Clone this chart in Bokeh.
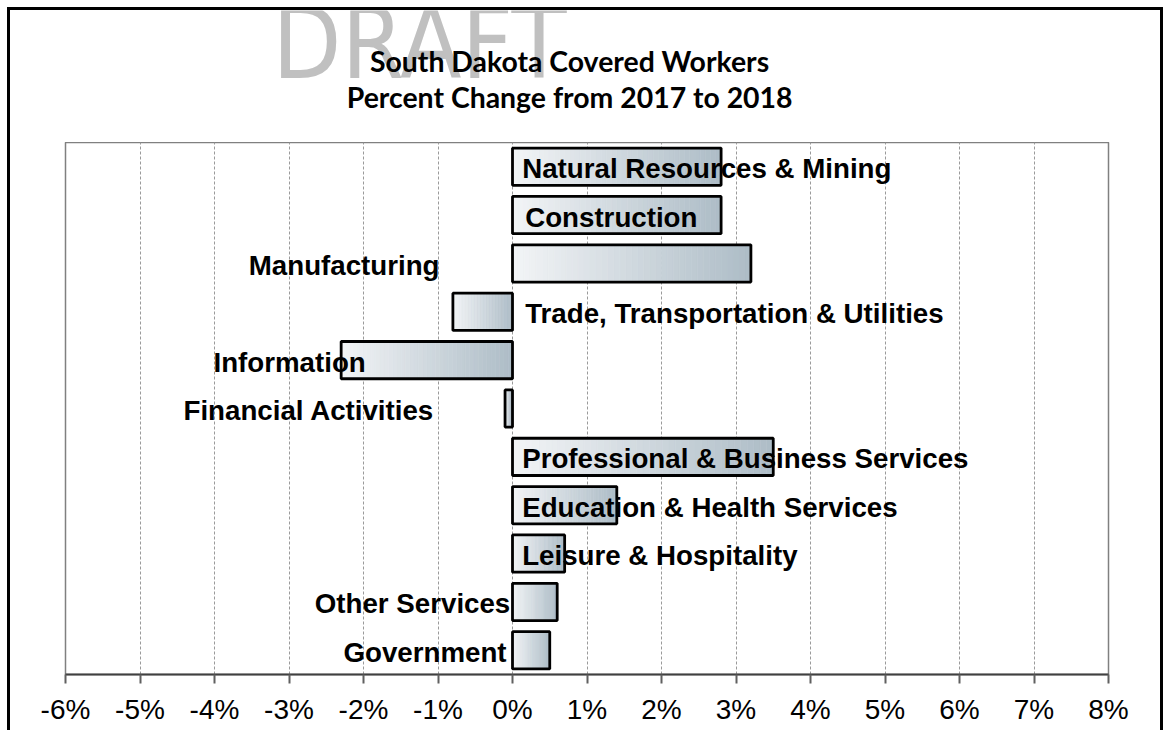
import numpy as np
from bokeh.plotting import figure
from bokeh.layouts import column
from bokeh.models import (Range1d, FactorRange, FixedTicker, PrintfTickFormatter,
                          ColumnDataSource)
from bokeh.embed import file_html
from bokeh.resources import INLINE
from bokeh.core.properties import value

# ---------------- data ----------------
categories = [
    "Natural Resources & Mining",
    "Construction",
    "Manufacturing",
    "Trade, Transportation & Utilities",
    "Information",
    "Financial Activities",
    "Professional & Business Services",
    "Education & Health Services",
    "Leisure & Hospitality",
    "Other Services",
    "Government",
]
pct_change = [2.8, 2.8, 3.2, -0.8, -2.3, -0.1, 3.5, 1.4, 0.7, 0.6, 0.5]
x_ticks = list(range(-6, 9))
title_lines = ["South Dakota Covered Workers", "Percent Change from 2017 to 2018"]
watermark = "DRAFT"

# ---------------- layout helpers (positions, not data) ----------------
label_x = [0.13, 0.17, -0.98, 0.17, -1.97, -1.05, 0.13, 0.13, 0.13, -0.03, -0.08]
label_align = ["left", "left", "right", "left", "right", "right",
               "left", "left", "left", "right", "right"]
HEADER_H = 132                 # px of the header strip above the plot frame
title_x = 0.767                # centre of the title in axis units
title_y = [82, 46]             # px above the plot frame
watermark_x, watermark_y = -1.25, 99

BAR_H = 0.77
FONT = "Liberation Sans"
BORDERS = dict(min_border_left=55, min_border_right=52)

x_range = Range1d(-6, 8)

# ---------------- header (title + watermark) ----------------
head = figure(width=1150, height=HEADER_H, x_range=x_range, y_range=Range1d(0, HEADER_H),
              output_backend="svg", toolbar_location=None, title=None,
              min_border_top=0, min_border_bottom=0, **BORDERS,
              background_fill_color="white", border_fill_color="white")
head.axis.visible = False
head.grid.visible = False
head.outline_line_color = None
head.text(x=[watermark_x], y=[watermark_y], text=[watermark],
          text_font=value("DejaVu Sans Condensed"), text_font_size="100px",
          text_color="#c0c0c0", text_align="center", text_baseline="middle")
head.text(x=[title_x, title_x], y=title_y, text=title_lines,
          text_font=value("Lato"), text_font_style="bold", text_font_size="28.4px",
          text_color="black", text_align="center", text_baseline="middle")

# ---------------- chart ----------------
p = figure(
    width=1150, height=720 - HEADER_H, title=None,
    x_range=x_range,
    y_range=FactorRange(factors=categories[::-1]),
    output_backend="svg", toolbar_location=None,
    min_border_top=0, min_border_bottom=56, **BORDERS,
    background_fill_color="white", border_fill_color="white",
)
p.outline_line_color = "#808080"
p.outline_line_width = 1.5

# gradient bars built from thin strips
N = 40
c0 = np.array([0xF2, 0xF4, 0xF6], dtype=float)
c1 = np.array([0xAE, 0xBD, 0xC7], dtype=float)
sy, sl, sr, sc = [], [], [], []
for cat, v in zip(categories, pct_change):
    a, b = min(0.0, v), max(0.0, v)
    edges = np.linspace(a, b, N + 1)
    for i in range(N):
        t = i / (N - 1)
        col = c0 + (c1 - c0) * t
        sy.append(cat)
        sl.append(edges[i])
        sr.append(edges[i + 1])
        sc.append("#%02x%02x%02x" % tuple(int(round(c)) for c in col))
p.hbar(y=sy, left=sl, right=sr, height=BAR_H, fill_color=sc, line_color=sc, line_width=0.6)

bar_src = ColumnDataSource(dict(
    y=categories,
    left=[min(0.0, v) for v in pct_change],
    right=[max(0.0, v) for v in pct_change],
))
p.hbar(y="y", left="left", right="right", height=BAR_H, source=bar_src,
       fill_color=None, line_color="black", line_width=2.8)

# category labels
lab_src = ColumnDataSource(dict(x=label_x, y=categories, text=categories, align=label_align))
p.text(x="x", y="y", text="text", source=lab_src, text_align="align",
       text_baseline="middle", text_font=value(FONT), text_font_style="bold",
       text_font_size="27.7px", text_color="black", y_offset=2)

# axes / grid
p.yaxis.visible = False
p.ygrid.visible = False
p.xaxis.ticker = FixedTicker(ticks=x_ticks)
p.xaxis.formatter = PrintfTickFormatter(format="%d%%")
p.xaxis.major_label_text_font = FONT
p.xaxis.major_label_text_font_size = "28px"
p.xaxis.major_label_text_color = "black"
p.xaxis.major_label_standoff = 10
p.xaxis.axis_line_color = "#404040"
p.xaxis.axis_line_width = 2
p.xaxis.major_tick_line_color = "#606060"
p.xaxis.major_tick_line_width = 2
p.xaxis.major_tick_out = 9
p.xaxis.major_tick_in = 0
p.xaxis.minor_tick_line_color = None
p.xgrid.ticker = FixedTicker(ticks=x_ticks)
p.xgrid.grid_line_color = "#9a9a9a"
p.xgrid.grid_line_dash = "3 2"
p.xgrid.grid_line_width = 1

page = column(head, p, spacing=0,
              styles={"margin-left": "7px", "margin-top": "7px",
                      "border-top": "3px solid black", "border-left": "3px solid black",
                      "border-right": "3px solid black"})

open("out.html", "w").write(file_html(page, INLINE))
